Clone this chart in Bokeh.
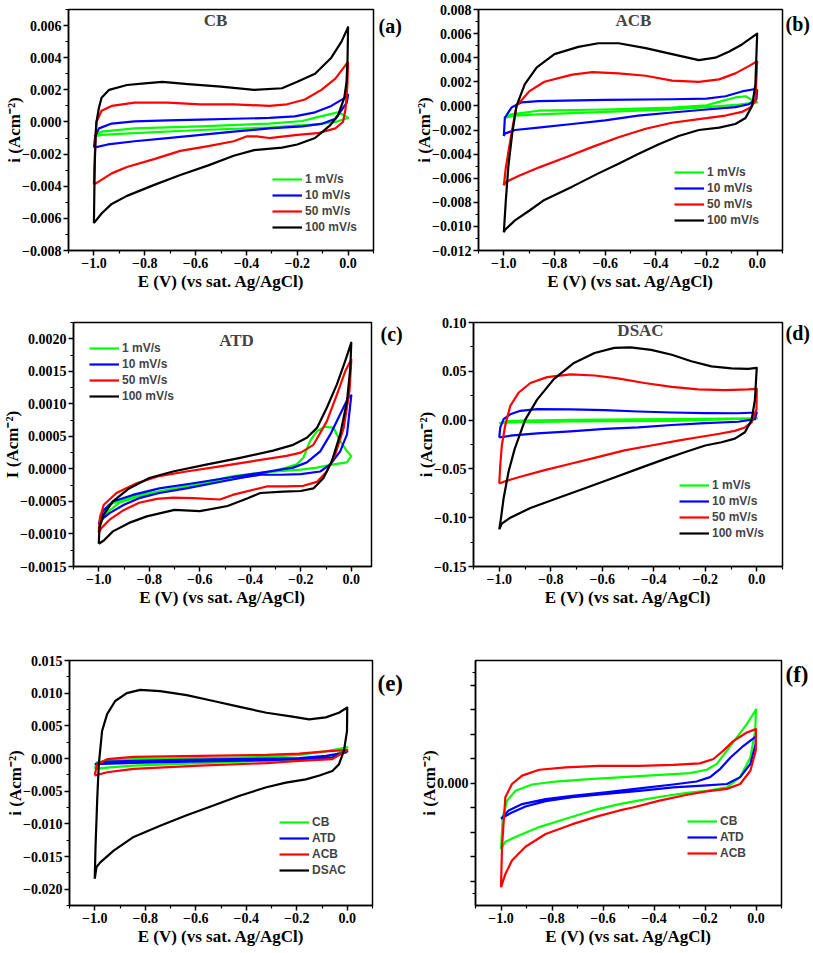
from bokeh.plotting import figure
from bokeh.models import Range1d, FixedTicker, Legend, LegendItem, Label, LinearAxis
from bokeh.layouts import row, column
from bokeh.embed import file_html
from bokeh.resources import INLINE

GREEN, BLUE, RED, BLACK = "#00ff00", "#0000ff", "#ff0000", "#000000"
RATES = ["1 mV/s", "10 mV/s", "50 mV/s", "100 mV/s"]
MATERIALS = ["CB", "ATD", "ACB", "DSAC"]

X_TICKS = [-1.0, -0.8, -0.6, -0.4, -0.2, 0.0]
X_LABELS = ["\u22121.0", "\u22120.8", "\u22120.6", "\u22120.4", "\u22120.2", "0.0"]
X_MINOR = [-1.1, -0.9, -0.7, -0.5, -0.3, -0.1, 0.1]

# ---------------- (a) CB ----------------
CB_E_100 = [-1.0, -0.997, -0.993, -0.99, -0.98, -0.97, -0.94, -0.87, -0.8, -0.73, -0.63, -0.5, -0.37, -0.26, -0.2, -0.13, -0.066, -0.026, 0.0,
            -0.002, -0.006, -0.015, -0.04, -0.07, -0.1, -0.13, -0.2, -0.26, -0.37, -0.45, -0.55, -0.66, -0.76, -0.87, -0.93, -0.97, -1.0]
CB_I_100 = [-0.0063, -0.0028, -0.0007, 0.0, 0.0009, 0.0015, 0.002, 0.0023, 0.0024, 0.0025, 0.00236, 0.0022, 0.002, 0.0021, 0.0025, 0.003, 0.004, 0.005, 0.0059,
            0.004, 0.0025, 0.0015, 0.0004, -0.0002, -0.0006, -0.001, -0.0014, -0.0016, -0.00175, -0.0021, -0.0027, -0.0033, -0.0039, -0.0046, -0.0051, -0.0057, -0.0063]
CB_E_50 = [-1.0, -0.995, -0.99, -0.97, -0.93, -0.84, -0.71, -0.58, -0.45, -0.31, -0.24, -0.17, -0.105, -0.05, -0.007, 0.0,
           -0.003, -0.01, -0.02, -0.05, -0.12, -0.2, -0.31, -0.36, -0.4, -0.45, -0.55, -0.66, -0.76, -0.87, -0.93, -0.98, -1.0]
CB_I_50 = [-0.0039, -0.0015, 0.0, 0.0007, 0.001, 0.0012, 0.0012, 0.0011, 0.0011, 0.001, 0.0011, 0.0014, 0.002, 0.0027, 0.0036, 0.0037,
           0.0022, 0.0008, 0.0, -0.0004, -0.0007, -0.0008, -0.001, -0.0009, -0.0009, -0.0012, -0.0015, -0.0018, -0.0023, -0.0028, -0.0032, -0.0037, -0.0039]
CB_E_10 = [-1.0, -0.995, -0.98, -0.93, -0.84, -0.71, -0.58, -0.45, -0.31, -0.21, -0.13, -0.066, -0.013, 0.0,
           -0.005, -0.05, -0.1, -0.18, -0.31, -0.45, -0.58, -0.71, -0.84, -0.945, -1.0]
CB_I_10 = [-0.0016, -0.0009, -0.0004, -0.0001, 0.00004, 0.0001, 0.00015, 0.0002, 0.00025, 0.00035, 0.0006, 0.001, 0.0015, 0.0017,
           0.0012, 0.0002, -0.0001, -0.00027, -0.0004, -0.0006, -0.0008, -0.001, -0.0012, -0.0014, -0.0016]
CB_E_1 = [-1.0, -0.97, -0.84, -0.58, -0.31, -0.18, -0.12, -0.066, -0.04, -0.013, 0.0,
          -0.05, -0.12, -0.18, -0.31, -0.58, -0.84, -0.97, -1.0]
CB_I_1 = [-0.0009, -0.0006, -0.0004, -0.00027, -0.0001, 0.00006, 0.0003, 0.0005, 0.0006, 0.0004, 0.00025,
          0.0, -0.00015, -0.0002, -0.00035, -0.0005, -0.0007, -0.0008, -0.0009]

# ---------------- (b) ACB ----------------
ACB_E_100 = [-1.0, -0.992, -0.982, -0.967, -0.95, -0.917, -0.87, -0.8, -0.706, -0.627, -0.547, -0.44, -0.336, -0.23, -0.165, -0.112, -0.06, 0.0,
             -0.007, -0.02, -0.046, -0.086, -0.15, -0.23, -0.31, -0.39, -0.47, -0.547, -0.627, -0.73, -0.84, -0.9, -0.956, -0.996, -1.0]
ACB_I_100 = [-0.0105, -0.0078, -0.005, -0.0023, 0.0, 0.0018, 0.0032, 0.0043, 0.0049, 0.0052, 0.0052, 0.0048, 0.0043, 0.0038, 0.004, 0.0045, 0.0051, 0.006,
             0.0018, 0.0, -0.001, -0.0015, -0.0018, -0.002, -0.0025, -0.0032, -0.004, -0.0048, -0.0056, -0.0067, -0.0078, -0.0087, -0.0095, -0.0103, -0.0105]
ACB_E_50 = [-1.0, -0.992, -0.97, -0.95, -0.9, -0.84, -0.73, -0.65, -0.547, -0.44, -0.336, -0.23, -0.15, -0.086, -0.033, 0.0,
            -0.007, -0.027, -0.06, -0.125, -0.23, -0.336, -0.44, -0.547, -0.65, -0.76, -0.86, -0.94, -0.99, -1.0]
ACB_I_50 = [-0.0066, -0.0051, -0.0023, 0.0, 0.0012, 0.002, 0.0026, 0.0028, 0.0027, 0.0025, 0.0021, 0.002, 0.0022, 0.0027, 0.0033, 0.0037,
            0.0004, -0.00014, -0.0005, -0.0008, -0.0011, -0.0014, -0.0019, -0.0026, -0.0034, -0.0043, -0.0051, -0.0058, -0.0063, -0.0066]
ACB_E_10 = [-1.0, -0.996, -0.97, -0.93, -0.864, -0.6, -0.336, -0.2, -0.125, -0.06, -0.007, 0.0,
            -0.003, -0.033, -0.086, -0.2, -0.336, -0.47, -0.6, -0.73, -0.864, -0.956, -0.996, -1.0]
ACB_I_10 = [-0.0025, -0.001, -0.00014, 0.0003, 0.0004, 0.0005, 0.00055, 0.0006, 0.0008, 0.0012, 0.0014, 0.0013,
            0.00055, 0.00014, -0.0001, -0.0003, -0.00055, -0.0008, -0.0012, -0.0015, -0.0018, -0.002, -0.0023, -0.0025]
ACB_E_1 = [-1.0, -0.97, -0.864, -0.6, -0.336, -0.2, -0.14, -0.086, -0.046, -0.013, 0.0,
           -0.073, -0.2, -0.336, -0.6, -0.864, -0.956, -1.0]
ACB_I_1 = [-0.001, -0.0007, -0.0004, -0.0003, -0.00014, 0.00005, 0.0004, 0.0007, 0.0008, 0.0004, 0.0003,
           0.0001, -0.0001, -0.0003, -0.0005, -0.0007, -0.0008, -0.001]

# ---------------- (c) ATD ----------------
ATD_E_100 = [-1.0, -0.997, -0.98, -0.944, -0.88, -0.8, -0.706, -0.57, -0.44, -0.31, -0.23, -0.176, -0.136, -0.097, -0.057, -0.024, 0.0,
             -0.004, -0.017, -0.044, -0.077, -0.11, -0.15, -0.2, -0.27, -0.36, -0.41, -0.49, -0.6, -0.7, -0.81, -0.88, -0.944, -0.98, -1.0]
ATD_I_100 = [-0.00115, -0.0009, -0.0007, -0.0005, -0.0003, -0.00014, -0.00004, 0.00007, 0.00017, 0.00028, 0.00037, 0.00048, 0.00063, 0.00094, 0.0013, 0.00166, 0.00194,
             0.00155, 0.00104, 0.00053, 0.00012, -0.00014, -0.0003, -0.00034, -0.00035, -0.00037, -0.00045, -0.00057, -0.00065, -0.00063, -0.00073, -0.00083, -0.00096, -0.0011, -0.00115]
ATD_E_50 = [-1.0, -0.995, -0.98, -0.93, -0.85, -0.76, -0.653, -0.52, -0.388, -0.256, -0.2, -0.15, -0.097, -0.057, -0.024, 0.0,
            -0.007, -0.03, -0.064, -0.097, -0.136, -0.19, -0.256, -0.335, -0.388, -0.47, -0.52, -0.626, -0.706, -0.77, -0.84, -0.9, -0.957, -0.99, -1.0]
ATD_I_50 = [-0.00098, -0.00075, -0.00055, -0.00037, -0.00022, -0.00011, -0.00004, 0.00004, 0.00012, 0.0002, 0.00025, 0.00037, 0.00073, 0.00114, 0.0015, 0.00168,
            0.0012, 0.00063, 0.00022, -0.00004, -0.0002, -0.00026, -0.00027, -0.00027, -0.00032, -0.0004, -0.00047, -0.00045, -0.00044, -0.00046, -0.00052, -0.00063, -0.00078, -0.00091, -0.00098]
ATD_E_10 = [-1.0, -0.984, -0.944, -0.865, -0.76, -0.626, -0.494, -0.36, -0.23, -0.176, -0.123, -0.083, -0.044, -0.011, 0.0,
            -0.017, -0.044, -0.083, -0.123, -0.2, -0.28, -0.36, -0.44, -0.547, -0.653, -0.76, -0.84, -0.9, -0.957, -0.99, -1.0]
ATD_I_10 = [-0.00085, -0.00065, -0.0005, -0.0004, -0.0003, -0.00022, -0.00014, -0.00006, 0.00002, 0.0001, 0.00027, 0.00053, 0.00084, 0.0011, 0.00113,
            0.00053, 0.00027, 0.00007, -0.00004, -0.00008, -0.00009, -0.00009, -0.00014, -0.00022, -0.0003, -0.00037, -0.00045, -0.00055, -0.00068, -0.00078, -0.00085]
ATD_E_1 = [-1.0, -0.993, -0.96, -0.89, -0.8, -0.69, -0.57, -0.44, -0.335, -0.256, -0.216, -0.19, -0.163, -0.136, -0.103, -0.07, -0.044, -0.017, 0.0,
           -0.017, -0.07, -0.136, -0.2, -0.335, -0.467, -0.6, -0.73, -0.84, -0.918, -0.97, -0.993, -1.0]
ATD_I_1 = [-0.00092, -0.0007, -0.00055, -0.00045, -0.00037, -0.0003, -0.00022, -0.00014, -0.00006, 0.00002, 0.00007, 0.00017, 0.00043, 0.00058, 0.00065, 0.00063, 0.00043, 0.00027, 0.0002,
           0.0001, 0.00007, 0.00002, -0.00001, -0.00005, -0.00011, -0.00022, -0.00032, -0.00042, -0.00052, -0.00068, -0.00083, -0.00092]

# ---------------- (d) DSAC ----------------
DSAC_E_100 = [-1.0, -0.993, -0.983, -0.964, -0.94, -0.9, -0.853, -0.788, -0.71, -0.63, -0.553, -0.49, -0.41, -0.33, -0.254, -0.176, -0.098, -0.033, 0.0,
              -0.007, -0.02, -0.046, -0.085, -0.137, -0.2, -0.28, -0.358, -0.462, -0.566, -0.67, -0.775, -0.879, -0.957, -0.99, -1.0]
DSAC_I_100 = [-0.112, -0.1, -0.08, -0.053, -0.0295, 0.0, 0.021, 0.042, 0.0586, 0.0688, 0.074, 0.0745, 0.072, 0.067, 0.0603, 0.055, 0.053, 0.0525, 0.0535,
              0.021, 0.0, -0.0125, -0.019, -0.0227, -0.026, -0.033, -0.04, -0.05, -0.06, -0.07, -0.08, -0.09, -0.1, -0.106, -0.112]
DSAC_E_50 = [-1.0, -0.996, -0.99, -0.977, -0.957, -0.925, -0.879, -0.814, -0.723, -0.63, -0.54, -0.436, -0.33, -0.228, -0.124, -0.033, 0.0,
             -0.001, -0.02, -0.046, -0.085, -0.15, -0.228, -0.306, -0.41, -0.514, -0.618, -0.723, -0.827, -0.918, -0.977, -1.0]
DSAC_I_50 = [-0.065, -0.046, -0.026, -0.0058, 0.0146, 0.028, 0.038, 0.044, 0.0468, 0.0457, 0.0427, 0.038, 0.034, 0.0315, 0.0308, 0.0315, 0.032,
             0.011, -0.0024, -0.0075, -0.011, -0.0142, -0.0176, -0.021, -0.026, -0.031, -0.038, -0.0447, -0.0515, -0.058, -0.0627, -0.065]
DSAC_E_10 = [-1.0, -0.996, -0.983, -0.957, -0.918, -0.853, -0.723, -0.59, -0.46, -0.33, -0.2, -0.072, 0.0,
             -0.007, -0.072, -0.2, -0.33, -0.46, -0.59, -0.723, -0.853, -0.957, -0.996, -1.0]
DSAC_I_10 = [-0.018, -0.0075, 0.001, 0.006, 0.0095, 0.0112, 0.011, 0.0102, 0.0088, 0.0078, 0.0071, 0.007, 0.0078,
             0.001, -0.0017, -0.003, -0.005, -0.0075, -0.009, -0.0115, -0.0136, -0.016, -0.0176, -0.018]
DSAC_E_1 = [-1.0, -0.957, -0.723, -0.33, 0.0, -0.33, -0.723, -0.957, -1.0]
DSAC_I_1 = [-0.003, -0.0007, 0.0003, 0.001, 0.0017, -0.0007, -0.0014, -0.0024, -0.003]

# ---------------- (e) 10 mV/s comparison ----------------
E_CB_E = [-1.0, -0.991, -0.938, -0.846, -0.584, -0.32, -0.19, -0.085, 0.0,
          -0.059, -0.19, -0.32, -0.584, -0.846, -0.951, -1.0]
E_CB_I = [-0.0016, -0.0006, -0.00025, -0.0001, 0.00005, 0.00025, 0.00056, 0.0011, 0.0017,
          0.00025, -0.0001, -0.00036, -0.0007, -0.0011, -0.0014, -0.0016]
E_ATD_E = [-1.0, -0.951, -0.716, -0.453, -0.19, -0.085, -0.007, 0.0,
           -0.059, -0.19, -0.32, -0.584, -0.846, -1.0]
E_ATD_I = [-0.00085, -0.00046, -0.00025, -0.0001, 0.00005, 0.0004, 0.0009, 0.0011,
           0.00015, -0.0001, -0.00025, -0.00046, -0.00066, -0.00085]
E_ACB_E = [-1.0, -0.991, -0.951, -0.846, -0.584, -0.32, -0.19, -0.085, 0.0,
           -0.059, -0.19, -0.32, -0.584, -0.846, -0.951, -1.0]
E_ACB_I = [-0.0026, -0.0009, -0.0001, 0.00025, 0.0004, 0.00056, 0.00076, 0.0011, 0.0013,
           -0.0001, -0.00036, -0.0007, -0.0011, -0.0016, -0.0021, -0.0026]
E_DSAC_E = [-1.0, -0.997, -0.99, -0.984, -0.971, -0.951, -0.919, -0.873, -0.82, -0.741, -0.636, -0.53, -0.426, -0.32, -0.217, -0.151, -0.085, -0.033, 0.0,
            -0.001, -0.013, -0.033, -0.059, -0.11, -0.164, -0.243, -0.32, -0.426, -0.53, -0.636, -0.741, -0.846, -0.925, -0.978, -0.993, -1.0]
E_DSAC_I = [-0.0184, -0.0136, -0.006, -0.0009, 0.0042, 0.0068, 0.0088, 0.01, 0.0105, 0.0103, 0.0097, 0.0088, 0.0079, 0.007, 0.0064, 0.006, 0.0063, 0.007, 0.0078,
            0.0042, 0.0012, -0.0009, -0.0019, -0.0026, -0.0032, -0.0037, -0.0044, -0.0057, -0.0072, -0.0087, -0.0103, -0.012, -0.0141, -0.0159, -0.0166, -0.0184]

# ---------------- (f) comparison without DSAC ----------------
F_CB_E = [-1.0, -0.993, -0.976, -0.943, -0.878, -0.786, -0.654, -0.52, -0.39, -0.26, -0.193, -0.154, -0.114, -0.075, -0.036, 0.0,
          -0.003, -0.022, -0.062, -0.114, -0.193, -0.27, -0.35, -0.43, -0.535, -0.64, -0.746, -0.85, -0.93, -0.983, -1.0]
F_CB_I = [-0.00135, -0.0007, -0.00036, -0.00016, -0.00003, 0.00003, 0.00008, 0.00012, 0.00016, 0.0002, 0.00027, 0.00039, 0.00066, 0.00093, 0.0012, 0.0015,
          0.00107, 0.00052, 0.00012, -0.00009, -0.00016, -0.0002, -0.00026, -0.00033, -0.00043, -0.00056, -0.00073, -0.0009, -0.00107, -0.0012, -0.00135]
F_ATD_E = [-1.0, -0.97, -0.917, -0.825, -0.72, -0.59, -0.457, -0.325, -0.233, -0.18, -0.14, -0.1, -0.049, 0.0,
           -0.001, -0.022, -0.062, -0.114, -0.193, -0.325, -0.457, -0.59, -0.72, -0.825, -0.904, -0.957, -1.0]
F_ATD_I = [-0.00073, -0.00056, -0.00043, -0.00033, -0.00026, -0.00019, -0.00011, -0.00003, 0.00003, 0.00012, 0.00029, 0.00052, 0.00076, 0.00095,
           0.0008, 0.00039, 0.00012, -0.00002, -0.00005, -0.00009, -0.00016, -0.00022, -0.00029, -0.00037, -0.00048, -0.0006, -0.00073]
F_ACB_E = [-1.0, -0.996, -0.983, -0.957, -0.917, -0.85, -0.746, -0.615, -0.457, -0.325, -0.22, -0.167, -0.128, -0.088, -0.036, 0.0,
           -0.001, -0.022, -0.062, -0.114, -0.193, -0.27, -0.378, -0.483, -0.535, -0.615, -0.72, -0.825, -0.904, -0.957, -0.983, -1.0]
F_ACB_I = [-0.00213, -0.0013, -0.00029, -0.00002, 0.00015, 0.00027, 0.00032, 0.00035, 0.00035, 0.00037, 0.0004, 0.00049, 0.00066, 0.00086, 0.00103, 0.0011,
           0.00066, 0.00025, -0.00002, -0.00012, -0.00017, -0.00024, -0.00036, -0.0005, -0.00056, -0.00067, -0.00084, -0.00104, -0.0013, -0.00158, -0.00186, -0.00213]

# ---------------- y ticks ----------------
A_YT = [0.006, 0.004, 0.002, 0.0, -0.002, -0.004, -0.006, -0.008]
A_YL = ["0.006", "0.004", "0.002", "0.000", "\u22120.002", "\u22120.004", "\u22120.006", "\u22120.008"]
A_YM = [0.007, 0.005, 0.003, 0.001, -0.001, -0.003, -0.005, -0.007]
B_YT = [0.008, 0.006, 0.004, 0.002, 0.0, -0.002, -0.004, -0.006, -0.008, -0.010, -0.012]
B_YL = ["0.008", "0.006", "0.004", "0.002", "0.000", "\u22120.002", "\u22120.004", "\u22120.006", "\u22120.008", "\u22120.010", "\u22120.012"]
B_YM = [0.007, 0.005, 0.003, 0.001, -0.001, -0.003, -0.005, -0.007, -0.009, -0.011]
C_YT = [0.002, 0.0015, 0.001, 0.0005, 0.0, -0.0005, -0.001, -0.0015]
C_YL = ["0.0020", "0.0015", "0.0010", "0.0005", "0.0000", "\u22120.0005", "\u22120.0010", "\u22120.0015"]
C_YM = [0.00225, 0.00175, 0.00125, 0.00075, 0.00025, -0.00025, -0.00075, -0.00125]
D_YT = [0.10, 0.05, 0.0, -0.05, -0.10, -0.15]
D_YL = ["0.10", "0.05", "0.00", "\u22120.05", "\u22120.10", "\u22120.15"]
D_YM = [0.075, 0.025, -0.025, -0.075, -0.125]
E_YT = [0.015, 0.010, 0.005, 0.0, -0.005, -0.010, -0.015, -0.020]
E_YL = ["0.015", "0.010", "0.005", "0.000", "\u22120.005", "\u22120.010", "\u22120.015", "\u22120.020"]
E_YM = [0.0125, 0.0075, 0.0025, -0.0025, -0.0075, -0.0125, -0.0175, -0.0225]
F_YT = [0.002, 0.0015, 0.001, 0.0005, 0.0, -0.0005, -0.001, -0.0015, -0.002]
F_YL = ["", "", "", "", "0.000", "", "", "", ""]
F_YM = [0.00225, -0.00225]

SERIF = "Liberation Serif"
SANS = "Liberation Sans"


def panel(width, height, borders, xr, yr, yt, yl, ym, ylabel, curves, leg_loc,
          title, title_pos, tag, tag_y, tag_size, tag_standoff):
    bl, br, bt, bb = borders
    p = figure(width=width, height=height, x_range=Range1d(*xr), y_range=Range1d(*yr),
               output_backend="svg", toolbar_location=None,
               min_border_left=bl, min_border_right=br, min_border_top=bt, min_border_bottom=bb)
    p.grid.visible = False
    p.outline_line_color = "black"
    p.outline_line_width = 1.5
    p.outline_line_alpha = 1.0
    items = []
    for lab, col, E, I in curves:
        r = p.line(E, I, line_color=col, line_width=2.2, line_join="round")
        items.append(LegendItem(label=lab, renderers=[r]))
    xa, ya = p.xaxis[0], p.yaxis[0]
    xa.ticker = FixedTicker(ticks=X_TICKS, minor_ticks=X_MINOR)
    xa.major_label_overrides = dict(zip(X_TICKS, X_LABELS))
    ya.ticker = FixedTicker(ticks=yt, minor_ticks=ym)
    ya.major_label_overrides = dict(zip(yt, yl))
    xa.axis_label = "E (V) (vs sat. Ag/AgCl)"
    ya.axis_label = ylabel
    for ax in (xa, ya):
        ax.axis_line_width = 1.5
        ax.major_tick_line_width = 1.5
        ax.minor_tick_line_width = 1.2
        ax.major_tick_out = 5
        ax.major_tick_in = 0
        ax.minor_tick_out = 3
        ax.minor_tick_in = 0
        ax.major_label_text_font = SERIF
        ax.major_label_text_font_style = "bold"
        ax.major_label_text_font_size = "14px"
        ax.major_label_text_color = "black"
        ax.axis_label_text_font = SERIF
        ax.axis_label_text_font_style = "bold"
        ax.axis_label_text_font_size = "17px"
        ax.axis_label_text_color = "black"
        ax.major_label_standoff = 2
    xa.axis_label_standoff = 1
    ya.axis_label_standoff = -5
    # panel tag "(a)" etc. shown beside the frame on the right
    tag_axis = LinearAxis(ticker=FixedTicker(ticks=[tag_y], minor_ticks=[]),
                          major_label_overrides={tag_y: tag},
                          axis_line_color=None, major_tick_line_color=None, minor_tick_line_color=None,
                          major_tick_out=0, major_tick_in=0, minor_tick_out=0, minor_tick_in=0,
                          axis_label_standoff=0,
                          major_label_standoff=tag_standoff,
                          major_label_text_font=SERIF, major_label_text_font_style="bold",
                          major_label_text_font_size=tag_size, major_label_text_color="black")
    p.add_layout(tag_axis, "right")
    leg = Legend(items=items, location=leg_loc, padding=0, margin=0, spacing=0,
                 label_standoff=3, glyph_width=30, glyph_height=16, label_height=16,
                 label_text_font=SANS, label_text_font_style="bold", label_text_font_size="12px",
                 background_fill_alpha=0, border_line_alpha=0)
    p.add_layout(leg)
    if title:
        p.add_layout(Label(x=title_pos[0], y=title_pos[1], x_units="screen", y_units="screen",
                           text=title, text_align="center", text_baseline="middle",
                           text_font=SERIF, text_font_style="bold", text_font_size="17px"))
    return p


YLAB = "i (Acm\u207b\u00b2)"
COLS = [GREEN, BLUE, RED, BLACK]

pa = panel(406, 300, (68, 33, 7, 48), (-1.1, 0.1), (-0.008, 0.007), A_YT, A_YL, A_YM, YLAB,
           list(zip(RATES, COLS, [CB_E_1, CB_E_10, CB_E_50, CB_E_100], [CB_I_1, CB_I_10, CB_I_50, CB_I_100])),
           (204, 15), "CB", (147, 230), "(a)", 0.006, "20px", 5)
pb = panel(407, 300, (72, 31, 9, 50), (-1.1, 0.1), (-0.012, 0.008), B_YT, B_YL, B_YM, YLAB,
           list(zip(RATES, COLS, [ACB_E_1, ACB_E_10, ACB_E_50, ACB_E_100], [ACB_I_1, ACB_I_10, ACB_I_50, ACB_I_100])),
           (196, 22), "ACB", (155, 230), "(b)", 0.0068, "20px", 3)
pc = panel(406, 330, (73, 35, 22, 64), (-1.1, 0.08), (-0.0015, 0.00225), C_YT, C_YL, C_YM, "I (Acm\u207b\u00b2)",
           list(zip(RATES, COLS, [ATD_E_1, ATD_E_10, ATD_E_50, ATD_E_100], [ATD_I_1, ATD_I_10, ATD_I_50, ATD_I_100])),
           (16, 162), "ATD", (163, 226), "(c)", 0.00208, "20px", 9)
pd_ = panel(407, 330, (67, 31, 22, 62), (-1.1, 0.1), (-0.15, 0.10), D_YT, D_YL, D_YM, YLAB,
            list(zip(RATES, COLS, [DSAC_E_1, DSAC_E_10, DSAC_E_50, DSAC_E_100], [DSAC_I_1, DSAC_I_10, DSAC_I_50, DSAC_I_100])),
            (206, 25), "DSAC", (167, 236), "(d)", 0.089, "20px", 3)
pe = panel(406, 322, (69, 33, 29, 47), (-1.1, 0.1), (-0.0225, 0.015), E_YT, E_YL, E_YM, YLAB,
           list(zip(MATERIALS, COLS, [E_CB_E, E_ATD_E, E_ACB_E, E_DSAC_E], [E_CB_I, E_ATD_I, E_ACB_I, E_DSAC_I])),
           (210, 27), None, None, "(e)", 0.0115, "23px", 5)
pf = panel(407, 322, (69, 32, 30, 46), (-1.1, 0.1), (-0.0025, 0.0025), F_YT, F_YL, F_YM, YLAB,
           list(zip(MATERIALS[:3], COLS[:3], [F_CB_E, F_ATD_E, F_ACB_E], [F_CB_I, F_ATD_I, F_ACB_I])),
           (212, 44), None, None, "(f)", 0.00222, "23px", 4)

layout = column(row(pa, pb, spacing=0), row(pc, pd_, spacing=0), row(pe, pf, spacing=0), spacing=0)

with open("out.html", "w") as fh:
    fh.write(file_html(layout, INLINE))
